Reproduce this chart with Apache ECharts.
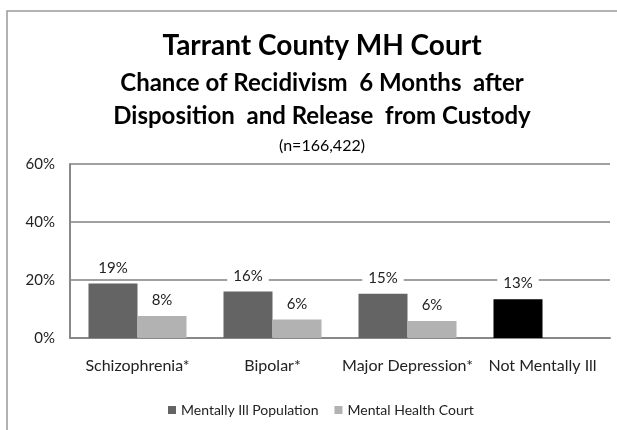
<!DOCTYPE html>
<html>
<head>
<meta charset="utf-8">
<script src="https://cdn.jsdelivr.net/npm/echarts@6/dist/echarts.min.js"></script>
<style>
  html, body { margin: 0; padding: 0; background: #fff; overflow: hidden; }
  #chart { width: 617px; height: 430px; }
</style>
</head>
<body>
<div id="chart"></div>
<script>
// chart data (percent)
var categories = ['Schizophrenia*', 'Bipolar*', 'Major Depression*', 'Not Mentally Ill'];
var mentallyIll = [18.8, 16.0, 15.3, 13.4];
var mhCourt = [7.6, 6.4, 5.9, null];
var yTicks = [0, 20, 40, 60];
var seriesNames = ['Mentally Ill Population', 'Mental Health Court'];

var FONT = 'Lato';

var chart = echarts.init(document.getElementById('chart'));

var labelCfg = {
  show: true,
  position: 'top',
  distance: 8,
  fontFamily: FONT,
  fontSize: 15,
  color: '#222',
  backgroundColor: '#fff',
  padding: [0, 6],
  formatter: function (p) { return Math.round(p.value) + '%'; }
};

var option = {
  animation: false,
  backgroundColor: '#fff',
  graphic: [{
    // frame of the chart box (only top and left edges are inside the picture)
    type: 'polyline',
    shape: { points: [[7, 460], [7, 11], [660, 11]] },
    style: { fill: null, stroke: '#999', lineWidth: 1.5 }
  }],
  title: [
    {
      text: 'Tarrant County MH Court',
      left: 317, top: 27, textAlign: 'center',
      textStyle: { fontFamily: FONT, fontWeight: 'bold', fontSize: 28, color: '#000' }
    },
    {
      text: 'Chance of Recidivism  6 Months  after\nDisposition  and Release  from Custody',
      left: 317, top: 62, textAlign: 'center',
      textStyle: { fontFamily: FONT, fontWeight: 'bold', fontSize: 24, lineHeight: 33, color: '#000' }
    },
    {
      text: '(n=166,422)',
      left: 317, top: 133, textAlign: 'center',
      textStyle: { fontFamily: FONT, fontWeight: 'normal', fontSize: 16, color: '#000' }
    }
  ],
  legend: {
    data: seriesNames,
    left: 163, top: 398,
    itemWidth: 8, itemHeight: 8, itemGap: 16,
    icon: 'rect',
    textStyle: { fontFamily: FONT, fontSize: 14, color: '#222' }
  },
  grid: { left: 70, right: 7, top: 164, bottom: 92, containLabel: false },
  xAxis: {
    type: 'category',
    data: categories,
    axisTick: { show: false },
    axisLine: { lineStyle: { color: '#888', width: 2 } },
    axisLabel: { fontFamily: FONT, fontSize: 16, color: '#222', margin: 20, interval: 0 }
  },
  yAxis: {
    type: 'value',
    min: yTicks[0], max: yTicks[yTicks.length - 1], interval: 20,
    axisLine: { show: true, lineStyle: { color: '#888', width: 2 } },
    axisTick: { show: false },
    splitLine: { lineStyle: { color: '#a0a0a0', width: 2 } },
    axisLabel: { fontFamily: FONT, fontSize: 15, color: '#222', margin: 15, formatter: '{value}%' }
  },
  series: [
    {
      name: seriesNames[0],
      type: 'bar',
      data: mentallyIll.map(function (v, i) {
        return i === 3 ? { value: v, itemStyle: { color: '#000' } } : v;
      }),
      itemStyle: { color: '#646464' },
      barGap: 0,
      barCategoryGap: '27.4%',
      label: labelCfg
    },
    {
      name: seriesNames[1],
      type: 'bar',
      data: mhCourt,
      itemStyle: { color: '#b2b2b2' },
      label: labelCfg
    }
  ]
};

chart.setOption(option);
</script>
</body>
</html>
